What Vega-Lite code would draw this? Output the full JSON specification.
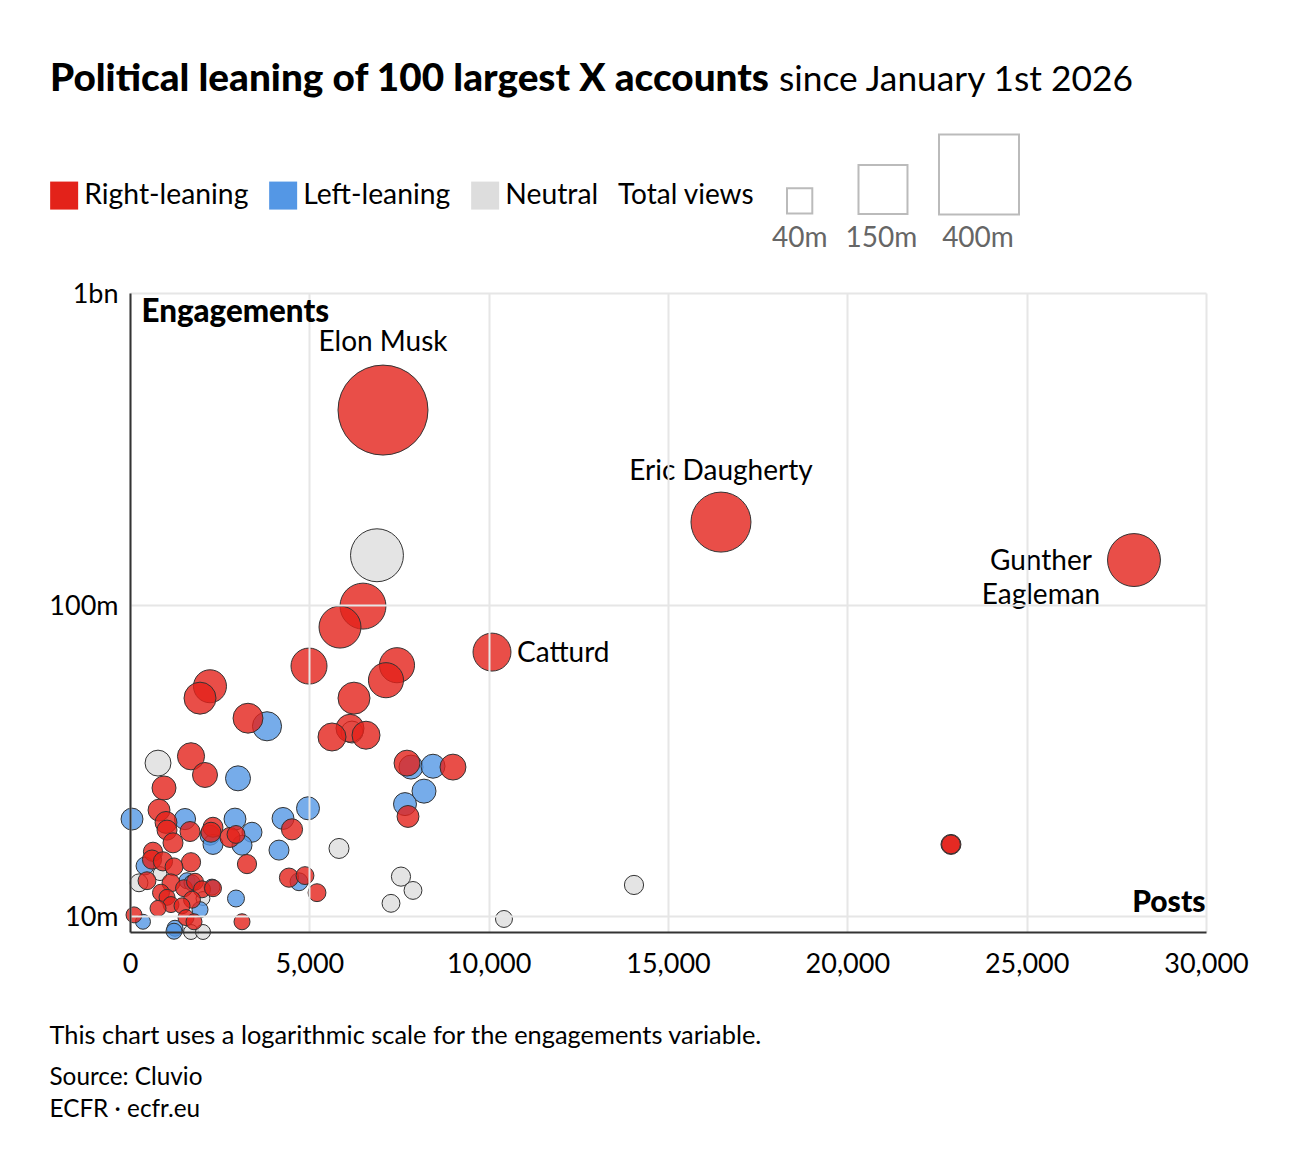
{
  "$schema": "https://vega.github.io/schema/vega-lite/v6.json",
  "width": 1076,
  "height": 639,
  "autosize": "none",
  "padding": {"left": 130, "top": 293, "right": 94, "bottom": 244},
  "background": "white",
  "title": {
    "text": "Political leaning of 100 largest X accounts",
    "subtitle": "since January 1st 2026",
    "anchor": "start",
    "frame": "group",
    "dx": -80,
    "offset": 35,
    "font": "Lato",
    "fontSize": 38.7,
    "fontWeight": 900,
    "color": "#000",
    "subtitleFont": "Lato",
    "subtitleFontSize": 35.3,
    "subtitleColor": "#000",
    "subtitlePadding": -36,
    "encode": {"subtitle": {"update": {"dx": {"value": 649}}}}
  },
  "config": {
    "view": {"stroke": null},
    "font": "Lato",
    "axis": {"labelFont": "Lato", "titleFont": "Lato"},
    "legend": {"labelFont": "Lato", "titleFont": "Lato"}
  },
  "datasets": {
    "accounts": [
      {"leaning": "Neutral", "posts": 6886, "engagements": 144, "views": 175},
      {"leaning": "Neutral", "posts": 6189, "engagements": 39, "views": 30},
      {"leaning": "Neutral", "posts": 5827, "engagements": 16.5, "views": 25},
      {"leaning": "Neutral", "posts": 7555, "engagements": 13.4, "views": 23},
      {"leaning": "Neutral", "posts": 7890, "engagements": 12.1, "views": 20},
      {"leaning": "Neutral", "posts": 7277, "engagements": 11, "views": 20},
      {"leaning": "Neutral", "posts": 10427, "engagements": 9.8, "views": 18},
      {"leaning": "Neutral", "posts": 14052, "engagements": 12.6, "views": 23},
      {"leaning": "Neutral", "posts": 781, "engagements": 31, "views": 42},
      {"leaning": "Neutral", "posts": 836, "engagements": 13.7, "views": 12},
      {"leaning": "Neutral", "posts": 251, "engagements": 12.8, "views": 20},
      {"leaning": "Neutral", "posts": 2035, "engagements": 11.4, "views": 12},
      {"leaning": "Neutral", "posts": 1701, "engagements": 8.9, "views": 14},
      {"leaning": "Neutral", "posts": 2035, "engagements": 8.9, "views": 14},
      {"leaning": "Left-leaning", "posts": 3820, "engagements": 40.7, "views": 53},
      {"leaning": "Left-leaning", "posts": 7834, "engagements": 30.1, "views": 36},
      {"leaning": "Left-leaning", "posts": 8448, "engagements": 30.3, "views": 36},
      {"leaning": "Left-leaning", "posts": 8197, "engagements": 25.2, "views": 36},
      {"leaning": "Left-leaning", "posts": 7667, "engagements": 22.9, "views": 33},
      {"leaning": "Left-leaning", "posts": 4963, "engagements": 22.2, "views": 33},
      {"leaning": "Left-leaning", "posts": 4266, "engagements": 20.6, "views": 30},
      {"leaning": "Left-leaning", "posts": 4154, "engagements": 16.3, "views": 25},
      {"leaning": "Left-leaning", "posts": 4712, "engagements": 12.9, "views": 20},
      {"leaning": "Left-leaning", "posts": 3011, "engagements": 27.7, "views": 39},
      {"leaning": "Left-leaning", "posts": 56, "engagements": 20.5, "views": 30},
      {"leaning": "Left-leaning", "posts": 1533, "engagements": 20.5, "views": 28},
      {"leaning": "Left-leaning", "posts": 2927, "engagements": 20.5, "views": 30},
      {"leaning": "Left-leaning", "posts": 3401, "engagements": 18.6, "views": 25},
      {"leaning": "Left-leaning", "posts": 2230, "engagements": 18.2, "views": 25},
      {"leaning": "Left-leaning", "posts": 2314, "engagements": 17, "views": 25},
      {"leaning": "Left-leaning", "posts": 3123, "engagements": 16.9, "views": 25},
      {"leaning": "Left-leaning", "posts": 418, "engagements": 14.5, "views": 20},
      {"leaning": "Left-leaning", "posts": 1589, "engagements": 13, "views": 16},
      {"leaning": "Left-leaning", "posts": 1729, "engagements": 12.8, "views": 16},
      {"leaning": "Left-leaning", "posts": 2286, "engagements": 12.4, "views": 16},
      {"leaning": "Left-leaning", "posts": 1952, "engagements": 10.5, "views": 16},
      {"leaning": "Left-leaning", "posts": 2955, "engagements": 11.4, "views": 18},
      {"leaning": "Left-leaning", "posts": 362, "engagements": 9.6, "views": 14},
      {"leaning": "Left-leaning", "posts": 1255, "engagements": 9.15, "views": 16},
      {"leaning": "Left-leaning", "posts": 1227, "engagements": 8.95, "views": 16},
      {"leaning": "Right-leaning", "name": "Elon Musk", "posts": 7054, "engagements": 421, "views": 506},
      {"leaning": "Right-leaning", "name": "Eric Daugherty", "posts": 16477, "engagements": 184, "views": 225},
      {"leaning": "Right-leaning", "name": "Gunther Eagleman", "posts": 27992, "engagements": 139, "views": 175},
      {"leaning": "Right-leaning", "posts": 6496, "engagements": 98.9, "views": 132},
      {"leaning": "Right-leaning", "posts": 5855, "engagements": 84.7, "views": 110},
      {"leaning": "Right-leaning", "name": "Catturd", "posts": 10093, "engagements": 70.4, "views": 90},
      {"leaning": "Right-leaning", "posts": 4991, "engagements": 63.5, "views": 81},
      {"leaning": "Right-leaning", "posts": 7444, "engagements": 63.9, "views": 77},
      {"leaning": "Right-leaning", "posts": 7137, "engagements": 57.2, "views": 77},
      {"leaning": "Right-leaning", "posts": 2230, "engagements": 54.7, "views": 68},
      {"leaning": "Right-leaning", "posts": 6245, "engagements": 50.1, "views": 64},
      {"leaning": "Right-leaning", "posts": 1952, "engagements": 50.1, "views": 64},
      {"leaning": "Right-leaning", "posts": 3290, "engagements": 43.2, "views": 56},
      {"leaning": "Right-leaning", "posts": 6134, "engagements": 40.1, "views": 49},
      {"leaning": "Right-leaning", "posts": 5632, "engagements": 37.6, "views": 49},
      {"leaning": "Right-leaning", "posts": 6580, "engagements": 38.1, "views": 49},
      {"leaning": "Right-leaning", "posts": 1701, "engagements": 32.6, "views": 46},
      {"leaning": "Right-leaning", "posts": 7723, "engagements": 31, "views": 42},
      {"leaning": "Right-leaning", "posts": 9005, "engagements": 30.1, "views": 42},
      {"leaning": "Right-leaning", "posts": 2091, "engagements": 28.4, "views": 39},
      {"leaning": "Right-leaning", "posts": 948, "engagements": 25.8, "views": 36},
      {"leaning": "Right-leaning", "posts": 7751, "engagements": 20.9, "views": 30},
      {"leaning": "Right-leaning", "posts": 809, "engagements": 21.9, "views": 30},
      {"leaning": "Right-leaning", "posts": 1004, "engagements": 20, "views": 30},
      {"leaning": "Right-leaning", "posts": 4517, "engagements": 19, "views": 28},
      {"leaning": "Right-leaning", "posts": 22889, "engagements": 17, "views": 25},
      {"leaning": "Right-leaning", "posts": 22889, "engagements": 17, "views": 22},
      {"leaning": "Right-leaning", "posts": 1032, "engagements": 18.9, "views": 25},
      {"leaning": "Right-leaning", "posts": 1673, "engagements": 18.7, "views": 25},
      {"leaning": "Right-leaning", "posts": 1199, "engagements": 17.2, "views": 25},
      {"leaning": "Right-leaning", "posts": 2314, "engagements": 19.3, "views": 25},
      {"leaning": "Right-leaning", "posts": 2258, "engagements": 18.6, "views": 25},
      {"leaning": "Right-leaning", "posts": 2788, "engagements": 17.9, "views": 25},
      {"leaning": "Right-leaning", "posts": 2955, "engagements": 18.3, "views": 20},
      {"leaning": "Right-leaning", "posts": 4433, "engagements": 13.3, "views": 23},
      {"leaning": "Right-leaning", "posts": 4879, "engagements": 13.5, "views": 20},
      {"leaning": "Right-leaning", "posts": 5214, "engagements": 11.9, "views": 20},
      {"leaning": "Right-leaning", "posts": 3262, "engagements": 14.7, "views": 23},
      {"leaning": "Right-leaning", "posts": 1701, "engagements": 14.9, "views": 23},
      {"leaning": "Right-leaning", "posts": 641, "engagements": 16.1, "views": 23},
      {"leaning": "Right-leaning", "posts": 613, "engagements": 15.2, "views": 23},
      {"leaning": "Right-leaning", "posts": 920, "engagements": 15, "views": 23},
      {"leaning": "Right-leaning", "posts": 1227, "engagements": 14.4, "views": 20},
      {"leaning": "Right-leaning", "posts": 474, "engagements": 13, "views": 20},
      {"leaning": "Right-leaning", "posts": 1143, "engagements": 12.8, "views": 20},
      {"leaning": "Right-leaning", "posts": 864, "engagements": 11.9, "views": 18},
      {"leaning": "Right-leaning", "posts": 1032, "engagements": 11.5, "views": 16},
      {"leaning": "Right-leaning", "posts": 1506, "engagements": 12.3, "views": 18},
      {"leaning": "Right-leaning", "posts": 1812, "engagements": 12.9, "views": 18},
      {"leaning": "Right-leaning", "posts": 2007, "engagements": 12.2, "views": 18},
      {"leaning": "Right-leaning", "posts": 2314, "engagements": 12.3, "views": 18},
      {"leaning": "Right-leaning", "posts": 1729, "engagements": 11.3, "views": 18},
      {"leaning": "Right-leaning", "posts": 1143, "engagements": 10.9, "views": 16},
      {"leaning": "Right-leaning", "posts": 781, "engagements": 10.6, "views": 16},
      {"leaning": "Right-leaning", "posts": 1450, "engagements": 10.8, "views": 16},
      {"leaning": "Right-leaning", "posts": 112, "engagements": 10.1, "views": 16},
      {"leaning": "Right-leaning", "posts": 1561, "engagements": 9.9, "views": 16},
      {"leaning": "Right-leaning", "posts": 1784, "engagements": 9.6, "views": 16},
      {"leaning": "Right-leaning", "posts": 3123, "engagements": 9.6, "views": 16}
    ]
  },
  "data": {"name": "accounts"},
  "resolve": {"axis": {"x": "independent"}},
  "layer": [
    {
      "mark": {"type": "circle", "fillOpacity": 0.8, "stroke": "#333", "strokeWidth": 1, "opacity": 1},
      "encoding": {
        "x": {
          "field": "posts",
          "type": "quantitative",
          "scale": {"domain": [0, 30000], "nice": false},
          "title": "Posts",
          "axis": {
            "orient": "bottom",
            "values": [0, 5000, 10000, 15000, 20000, 25000, 30000],
            "labelExpr": "format(datum.value, ',')",
            "grid": true,
            "gridColor": "#e6e6e6",
            "gridWidth": 2,
            "ticks": false,
            "domainColor": "#333",
            "domainWidth": 2,
            "labelColor": "#000",
            "labelFontSize": 27,
            "labelPadding": 19,
            "labelOverlap": false,
            "labelFlush": false,
            "zindex": 1,
            "titleFontSize": 30,
            "titleFontWeight": 900,
            "titleColor": "#000",
            "titleAlign": "right",
            "titleBaseline": "middle",
            "titleX": 1075,
            "titleY": -30
          }
        },
        "y": {
          "field": "engagements",
          "type": "quantitative",
          "scale": {"type": "log", "domain": [8.9, 1000], "nice": false},
          "title": "Engagements",
          "axis": {
            "values": [10, 100, 1000],
            "labelExpr": "datum.value >= 1000 ? '1bn' : datum.value + 'm'",
            "grid": true,
            "gridColor": "#e6e6e6",
            "gridWidth": 2,
            "ticks": false,
            "domainColor": "#333",
            "domainWidth": 2,
            "labelColor": "#000",
            "labelFontSize": 27,
            "labelPadding": 12,
            "labelOffset": 1.5,
            "labelFlush": false,
            "zindex": 1,
            "titleFontSize": 31.3,
            "titleFontWeight": 900,
            "titleColor": "#000",
            "titleAngle": 0,
            "titleAlign": "left",
            "titleBaseline": "middle",
            "titleX": 11,
            "titleY": 19
          }
        },
        "color": {
          "field": "leaning",
          "type": "nominal",
          "scale": {
            "domain": ["Right-leaning", "Left-leaning", "Neutral"],
            "range": ["#e3221a", "#5497e5", "#dddddd"]
          },
          "legend": {
            "orient": "none",
            "legendX": -80,
            "legendY": -112,
            "direction": "horizontal",
            "columns": 3,
            "title": null,
            "symbolType": "square",
            "symbolSize": 784,
            "labelFontSize": 28.3,
            "labelLimit": 400,
            "labelColor": "#000",
            "labelOffset": 6,
            "columnPadding": 20,
            "encoding": {"symbols": {"fillOpacity": {"value": 1}, "stroke": {"value": "transparent"}, "strokeWidth": {"value": 0}}}
          }
        },
        "size": {
          "field": "views",
          "type": "quantitative",
          "scale": {"domain": [0, 1000], "range": [0, 16000]},
          "legend": {
            "orient": "none",
            "legendX": 488,
            "legendY": -159,
            "direction": "horizontal",
            "title": "Total views",
            "titleOrient": "left",
            "titleFontSize": 28,
            "titleFontWeight": "normal",
            "titleColor": "#000",
            "titlePadding": 32,
            "values": [40, 150, 400],
            "labelExpr": "datum.label + 'm'",
            "symbolType": "square",
            "labelFontSize": 28,
            "labelColor": "#666",
            "columnPadding": 17,
            "encoding": {
              "title": {"dy": {"value": 2}},
              "symbols": {
                "fill": {"value": "white"},
                "fillOpacity": {"value": 1},
                "stroke": {"value": "#bbb"},
                "strokeWidth": {"value": 2},
                "size": {"value": {"expr": "14.8 * datum.value"}},
                "x": {"value": {"expr": "2 * sqrt(datum.value) + (datum.value == 150 ? 2.5 : datum.value == 400 ? -1 : 0)"}},
                "y": {"value": {"expr": "79 - 1.925 * sqrt(datum.value)"}}
              },
              "labels": {
                "x": {"value": {"expr": "2 * sqrt(datum.value) + (datum.value == 150 ? 1 : datum.value == 400 ? -2 : 0)"}},
                "y": {"value": 105},
                "align": {"value": "center"}
              }
            }
          }
        }
      }
    },
    {
      "transform": [{"filter": "datum.name == 'Elon Musk'"}],
      "mark": {"type": "text", "fontSize": 28, "font": "Lato", "color": "#000", "dy": -67},
      "encoding": {
        "x": {"field": "posts", "type": "quantitative", "axis": {"orient": "bottom", "title": "This chart uses a logarithmic scale for the engagements variable.", "labels": false, "ticks": false, "domain": false, "grid": false, "titleFont": "Lato", "titleFontSize": 25.4, "titleFontWeight": "normal", "titleColor": "#000", "titleAlign": "left", "titleBaseline": "middle", "titleX": -81, "titleY": 103}},
        "y": {"field": "engagements", "type": "quantitative"},
        "text": {"field": "name"}
      }
    },
    {
      "transform": [{"filter": "datum.name == 'Eric Daugherty'"}],
      "mark": {"type": "text", "fontSize": 28, "font": "Lato", "color": "#000", "dy": -50},
      "encoding": {
        "x": {"field": "posts", "type": "quantitative", "axis": null},
        "y": {"field": "engagements", "type": "quantitative"},
        "text": {"field": "name"}
      }
    },
    {
      "transform": [{"filter": "datum.name == 'Catturd'"}],
      "mark": {"type": "text", "fontSize": 28, "font": "Lato", "color": "#000", "align": "left", "dx": 25, "dy": 2},
      "encoding": {
        "x": {"field": "posts", "type": "quantitative", "axis": {"orient": "bottom", "title": ["Source: Cluvio", "ECFR · ecfr.eu"], "labels": false, "ticks": false, "domain": false, "grid": false, "titleFont": "Lato", "titleFontSize": 24.3, "titleFontWeight": "normal", "titleColor": "#000", "titleAlign": "left", "titleBaseline": "middle", "titleLineHeight": 32, "titleX": -81, "titleY": 145}},
        "y": {"field": "engagements", "type": "quantitative"},
        "text": {"field": "name"}
      }
    },
    {
      "transform": [{"filter": "datum.name == 'Gunther Eagleman'"}],
      "mark": {"type": "text", "fontSize": 28, "font": "Lato", "color": "#000", "lineBreak": " ", "dx": -93, "dy": 2, "lineHeight": 34},
      "encoding": {
        "x": {"field": "posts", "type": "quantitative", "axis": null},
        "y": {"field": "engagements", "type": "quantitative"},
        "text": {"field": "name"}
      }
    }
  ]
}
